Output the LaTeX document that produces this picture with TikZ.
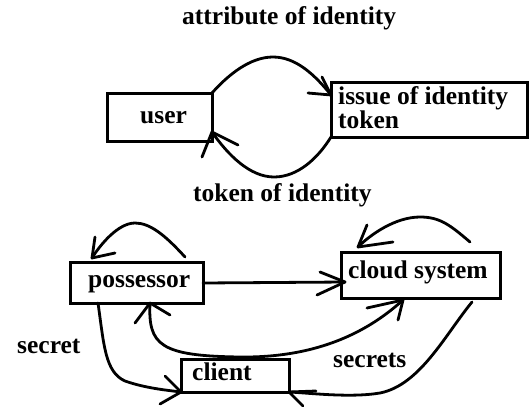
\documentclass[tikz,border=0pt]{standalone}
\usepackage{fontspec}
\setmainfont{Liberation Serif}
\usetikzlibrary{calc}
\begin{document}
\begin{tikzpicture}[x=1pt,y=-1pt,
  box/.style={draw, line width=3pt, outer sep=0pt, inner sep=0pt, anchor=north west},
  txt/.style={font=\fontsize{25.5}{23.5}\selectfont\bfseries, anchor=base west, inner sep=0pt},
  conn/.style={line width=2.8pt, line cap=round, line join=round}]
\newcommand\handbarb[3]{\draw[conn] ($(#1)+(#2)$) -- (#1) -- ($(#1)+(#3)$);}
\useasboundingbox (0,0) rectangle (530,407);

% boxes
\node[box, minimum width=105pt, minimum height=48pt] (user) at (107,93) {};
\node[box, minimum width=196pt, minimum height=55pt] (issue) at (331,82) {};
\node[box, minimum width=133pt, minimum height=41pt] (poss) at (70,262) {};
\node[box, minimum width=159pt, minimum height=46pt] (cloud) at (341,252) {};
\node[box, minimum width=108pt, minimum height=33pt] (client) at (181,359) {};

% texts (a two-line node sits on the baseline of its last line)
\node[txt] (title) at (182,24.5) {attribute of identity};
\node[txt] (tokid) at (193,201.5) {token of identity};
\node[txt] (usertxt) at (140,123) {user};
\node[txt, align=left] (issuetxt) at (338,128) {issue of identity\\token};
\node[txt] (posstxt) at (88,287) {possessor};
\node[txt] (cloudtxt) at (348,278) {cloud system};
\node[txt] (clienttxt) at (192,380) {client};
\node[txt] (secret) at (17,353) {secret};
\node[txt] (secrets) at (333,367) {secrets};

% anchor points on the boxes
\coordinate (issuein) at ($(issue.north west)+(0,13)$);
\coordinate (userin) at ($(user.north east)+(0,39)$);
\coordinate (possloopA) at ($(poss.north west)+(115,-5)$);
\coordinate (possloopB) at ($(poss.north west)+(22,-4)$);
\coordinate (cloudloopA) at ($(cloud.north west)+(129,-10)$);
\coordinate (cloudloopB) at ($(cloud.north west)+(17,-5)$);
\coordinate (possright) at ($(poss.north east)+(0,21)$);
\coordinate (cloudleft) at ($(cloud.north west)+(4,30)$);
\coordinate (possbot) at ($(poss.south west)+(80,0)$);
\coordinate (possbotL) at ($(poss.south west)+(28,0)$);
\coordinate (cloudbot) at ($(cloud.south west)+(62,2)$);
\coordinate (cloudbotR) at ($(cloud.south east)+(-28,4)$);

% user -> issue
\draw[conn] (user.north east) .. controls (228,75) and (250,57) .. (273,57)
  .. controls (296,57) and (315,75) .. (issuein);
\handbarb{issuein}{-23,-2}{-9,-18}

% issue -> user
\draw[conn] (issue.south west) .. controls (318,158) and (298,177) .. (274,177)
  .. controls (250,177) and (228,155) .. (userin);
\handbarb{userin}{-10,25}{26,13}

% self loop on possessor
\draw[conn] (possloopA) .. controls (165,235) and (150,223) .. (135,223)
  .. controls (118,223) and (100,245) .. (possloopB);
\handbarb{possloopB}{3,-21}{23,-5}

% self loop on cloud system
\draw[conn] (cloudloopA) .. controls (450,225) and (440,217) .. (420,217)
  .. controls (395,217) and (370,235) .. (cloudloopB);
\handbarb{cloudloopB}{9,-22}{35,-5}

% possessor -> cloud system
\draw[conn] (possright) -- (cloudleft);
\handbarb{cloudleft}{-25,-10}{-28,13}

% client link to possessor and cloud system
\draw[conn] (possbot) .. controls (148,345) and (160,356) .. (240,357)
  .. controls (320,358) and (370,330) .. (cloudbot);
\handbarb{possbot}{-15,20}{20,12}
\handbarb{cloudbot}{-36,8}{-5,20}

% possessor -> client (secret)
\draw[conn] (possbotL) .. controls (104,345) and (105,372) .. (125,381)
  .. controls (145,388) and (165,390) .. (client.south west);
\handbarb{client.south west}{-16,-16}{-21,12}

% cloud system -> client (secrets)
\draw[conn] (cloudbotR) .. controls (445,335) and (420,385) .. (380,393)
  .. controls (350,398) and (310,393) .. (client.south east);
\handbarb{client.south east}{27,-1}{14,14}
\end{tikzpicture}
\end{document}
